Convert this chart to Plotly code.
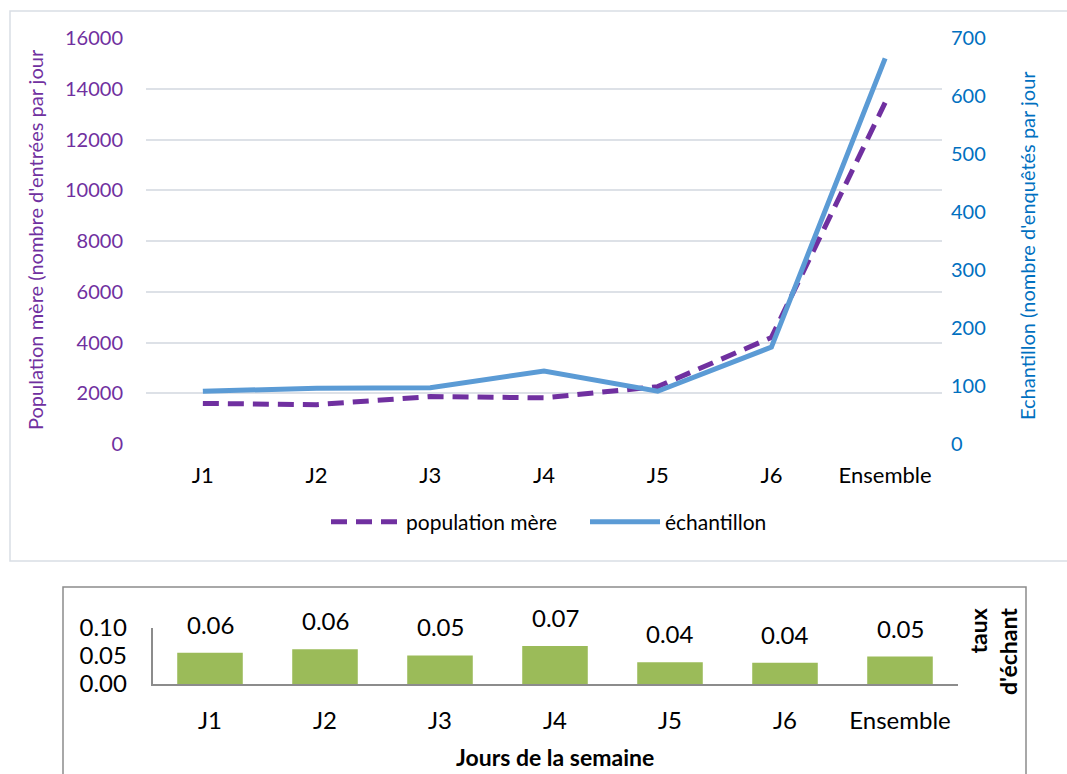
import plotly.graph_objects as go

categories = ["J1", "J2", "J3", "J4", "J5", "J6", "Ensemble"]
population_mere = [1600, 1550, 1870, 1820, 2260, 4200, 13450]
echantillon = [91, 96, 97, 126, 91, 167, 665]
taux_echant = [0.056, 0.062, 0.051, 0.068, 0.039, 0.038, 0.049]

W, H = 1067, 774
FONT = "Lato"
PURPLE = "#7030A0"
BLUE = "#5B9BD5"
BLUE_TXT = "#0070C0"
GREEN = "#9BBB59"
GRID = "#DDE1E7"


def px(x):
    return x / W


def py(y):
    return 1 - y / H


fig = go.Figure()

fig.add_trace(go.Scatter(
    x=categories, y=population_mere, name="population mère", mode="lines",
    line=dict(color=PURPLE, width=5, dash="16px,9px"),
    xaxis="x", yaxis="y"))
fig.add_trace(go.Scatter(
    x=categories, y=echantillon, name="échantillon", mode="lines",
    line=dict(color=BLUE, width=5),
    xaxis="x", yaxis="y2"))
fig.add_trace(go.Bar(
    x=categories, y=taux_echant, name="taux d'échant", showlegend=False,
    marker=dict(color=GREEN, line=dict(width=0)), width=0.57,
    xaxis="x2", yaxis="y3"))

annotations = [
    dict(text="Population mère (nombre d'entrées par jour", xref="paper", yref="paper",
         x=px(35), y=py(240), xanchor="center", yanchor="middle", textangle=-90,
         showarrow=False, font=dict(size=20, color=PURPLE, family=FONT)),
    dict(text="Echantillon (nombre d'enquêtés par jour", xref="paper", yref="paper",
         x=px(1027), y=py(246), xanchor="center", yanchor="middle", textangle=-90,
         showarrow=False, font=dict(size=20, color=BLUE_TXT, family=FONT)),
    dict(text="<b>taux<br>d'échant</b>", xref="paper", yref="paper",
         x=px(993), y=py(652), xanchor="center", yanchor="middle", textangle=-90,
         align="right", showarrow=False,
         font=dict(size=23, color="#000000", family=FONT)),
    dict(text="<b>Jours de la semaine</b>", xref="paper", yref="paper",
         x=px(555), y=py(757), xanchor="center", yanchor="middle", showarrow=False,
         font=dict(size=23, color="#000000", family=FONT)),
]
for c, v in zip(categories, taux_echant):
    annotations.append(dict(
        text=f"{v:.2f}", x=c, y=v, xref="x2", yref="y3",
        xanchor="center", yanchor="bottom", yshift=12, showarrow=False,
        font=dict(size=24, color="#000000", family=FONT)))

fig.update_layout(
    template="none",
    width=W, height=H, autosize=False,
    margin=dict(l=0, r=0, t=0, b=0, pad=0),
    paper_bgcolor="white", plot_bgcolor="white",
    font=dict(family=FONT, size=18, color="#000000"),
    showlegend=True,
    legend=dict(orientation="h", x=px(326), y=py(522), xanchor="left", yanchor="middle",
                font=dict(size=21, family=FONT, color="#000000"),
                itemwidth=70, entrywidth=174, entrywidthmode="pixels",
                bgcolor="rgba(0,0,0,0)"),
    xaxis=dict(domain=[px(146), px(942)], anchor="y", range=[-0.5, 6.5], automargin=False,
               showgrid=False, showline=False, ticks="", zeroline=False,
               tickfont=dict(size=22, color="#000000"), ticklabelstandoff=16),
    yaxis=dict(domain=[py(444), py(38)], anchor="x", range=[0, 16000], dtick=2000,
               tickformat="d", automargin=False,
               showgrid=True, gridcolor=GRID, gridwidth=2, zeroline=False, ticks="",
               tickfont=dict(size=20, color=PURPLE), ticklabelstandoff=22),
    yaxis2=dict(overlaying="y", side="right", anchor="x", range=[0, 700], dtick=100,
                automargin=False, showgrid=False, zeroline=False, ticks="",
                tickfont=dict(size=20, color=BLUE_TXT), ticklabelstandoff=8),
    xaxis2=dict(domain=[px(152.5), px(957.5)], anchor="y3", range=[-0.5, 6.5], automargin=False,
                showgrid=False, showline=True, linecolor="#8C8C8C", linewidth=1.5,
                zeroline=False, ticks="", tickfont=dict(size=24, color="#000000"),
                ticklabelstandoff=14),
    yaxis3=dict(domain=[py(684), py(628)], anchor="x2", range=[0, 0.1], dtick=0.05,
                tickformat=".2f", showgrid=False, zeroline=False, automargin=False, ticks="",
                showline=True, linecolor="#8C8C8C", linewidth=1.5,
                tickfont=dict(size=24, color="#000000"), ticklabelstandoff=19),
    shapes=[
        dict(type="rect", xref="paper", yref="paper",
             x0=px(10), x1=px(1080), y0=py(561), y1=py(11),
             line=dict(color="#D9DEE5", width=1.5), fillcolor="rgba(0,0,0,0)", layer="below"),
        dict(type="rect", xref="paper", yref="paper",
             x0=px(63), x1=px(1026), y0=py(790), y1=py(587),
             line=dict(color="#8C8C8C", width=1.5), fillcolor="rgba(0,0,0,0)", layer="below"),
    ],
    annotations=annotations,
)

fig.write_html("out.html",
               config={"displayModeBar": False},
               post_script="document.body.style.margin='0';document.body.style.padding='0';"
                           "document.documentElement.style.overflow='hidden';")
